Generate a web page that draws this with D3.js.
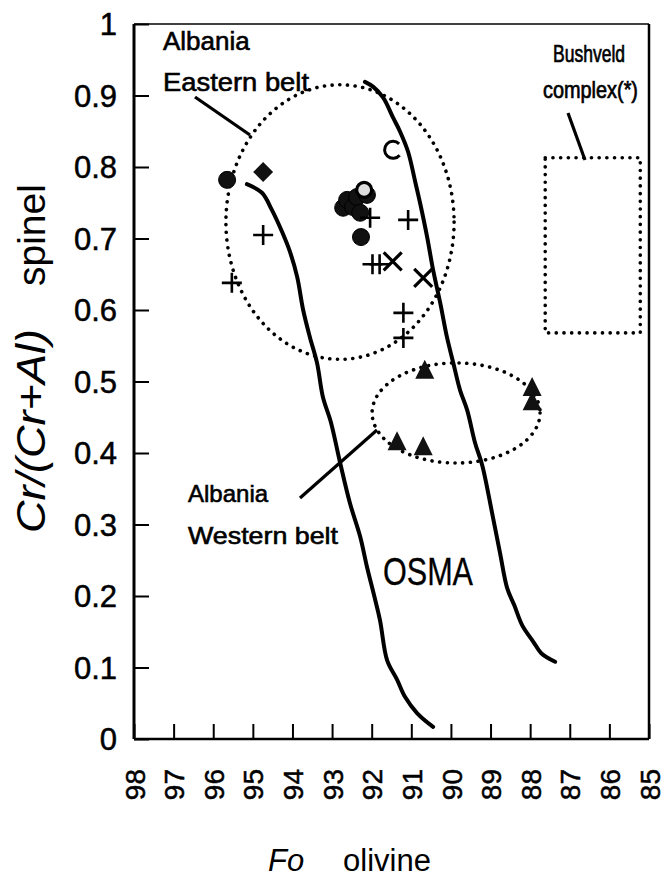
<!DOCTYPE html>
<html><head><meta charset="utf-8">
<script src="https://cdn.jsdelivr.net/npm/d3@7/dist/d3.min.js"></script>
<style>body{margin:0;background:#fff}svg{display:block}</style>
</head><body>
<svg id="c" width="666" height="881"></svg>
<script>
// ---- data ----
const xTicks = [98,97,96,95,94,93,92,91,90,89,88,87,86,85];
const yTicks = [0,0.1,0.2,0.3,0.4,0.5,0.6,0.7,0.8,0.9,1];
const yTickLabels = ["0","0.1","0.2","0.3","0.4","0.5","0.6","0.7","0.8","0.9","1"];

const filledCircles = [[95.65,0.782],[92.72,0.743],[92.62,0.754],[92.47,0.744],[92.37,0.758],[92.29,0.736],[92.12,0.761],[92.27,0.702]];
const ringCircles = [[92.19,0.768]];
const openArcs = [[91.46,0.824]];
const diamonds = [[94.74,0.793]];
const pluses = [[94.74,0.705],[95.53,0.638],[92.04,0.729],[91.08,0.726],[91.98,0.664],[91.80,0.664],[91.20,0.596],[91.20,0.561]];
const crosses = [[91.47,0.668],[90.70,0.645]];
const triangles = [[90.66,0.515],[87.95,0.491],[87.95,0.471],[91.36,0.415],[90.70,0.408]];

const osmaLeft = [[95.15,0.776],[94.77,0.764],[94.52,0.740],[94.26,0.709],[94.06,0.681],[93.88,0.646],[93.73,0.600],[93.56,0.562],[93.38,0.526],[93.23,0.478],[93.03,0.443],[92.80,0.387],[92.55,0.330],[92.29,0.283],[92.12,0.241],[91.94,0.201],[91.79,0.166],[91.61,0.110],[91.36,0.083],[91.16,0.059],[90.85,0.036],[90.45,0.017]];
const osmaRight = [[92.17,0.919],[91.96,0.912],[91.71,0.897],[91.46,0.869],[91.28,0.849],[91.08,0.821],[90.90,0.779],[90.78,0.750],[90.60,0.702],[90.45,0.656],[90.27,0.610],[90.10,0.562],[89.94,0.526],[89.77,0.488],[89.59,0.460],[89.39,0.414],[89.21,0.383],[88.96,0.316],[88.76,0.260],[88.58,0.211],[88.40,0.187],[88.20,0.159],[87.92,0.136],[87.72,0.120],[87.37,0.108]];

const easternBelt = [92.80, 0.723, 2.88, 0.192];   // centre Fo, centre Cr#, radius Fo, radius Cr#
const westernBelt = [89.87, 0.456, 2.12, 0.070];
const bushveld = [87.62, 85.22, 0.813, 0.568];     // Fo from, Fo to, Cr# top, Cr# bottom

// ---- chart ----
const svg = d3.select("#c");
const FONT = "'Liberation Sans', Arial, sans-serif";
const x = d3.scaleLinear().domain([98,85]).range([134,649]);
const y = d3.scaleLinear().domain([0,1]).range([739,24]);

// frame
svg.append("line").attr("x1",x(98)).attr("x2",x(85)).attr("y1",y(1)).attr("y2",y(1)).attr("stroke","#000").attr("stroke-width",1.5);
svg.append("line").attr("x1",x(98)).attr("x2",x(85)).attr("y1",y(0)).attr("y2",y(0)).attr("stroke","#000").attr("stroke-width",2.5);
svg.append("line").attr("x1",x(98)).attr("x2",x(98)).attr("y1",y(1)).attr("y2",y(0)).attr("stroke","#000").attr("stroke-width",3);
svg.append("line").attr("x1",x(85)).attr("x2",x(85)).attr("y1",y(1)).attr("y2",y(0)).attr("stroke","#000").attr("stroke-width",2.5);

// x axis
const gx = svg.append("g").attr("transform",`translate(0,${y(0)})`)
  .call(d3.axisBottom(x).tickValues(xTicks).tickSize(-15).tickFormat(d=>String(d)));
gx.select(".domain").remove();
gx.selectAll(".tick line").attr("stroke","#000").attr("stroke-width",2);
gx.selectAll(".tick text")
  .attr("transform","rotate(-90)").attr("x",-30).attr("y",0).attr("dy","0.36em")
  .attr("text-anchor","end").attr("font-family",FONT).attr("font-size",28)
  .attr("fill","#000").attr("stroke","#000").attr("stroke-width",0.5);

// y axis
const gy = svg.append("g").attr("transform",`translate(${x(98)},0)`)
  .call(d3.axisLeft(y).tickValues(yTicks).tickSize(-15).tickPadding(17).tickFormat((d,i)=>yTickLabels[i]));
gy.select(".domain").remove();
gy.selectAll(".tick line").attr("stroke","#000").attr("stroke-width",2);
gy.selectAll(".tick text").attr("font-family",FONT).attr("font-size",31).attr("fill","#000")
  .attr("stroke","#000").attr("stroke-width",0.5).attr("dy","0.35em");

// axis titles
const yl = svg.append("g").attr("font-family",FONT).attr("fill","#000");
yl.append("text").attr("transform","translate(45,533) rotate(-90)").attr("font-size",40)
  .attr("font-style","italic").attr("textLength",204).attr("lengthAdjust","spacingAndGlyphs").text("Cr/(Cr+Al)");
yl.append("text").attr("transform","translate(45,286) rotate(-90)").attr("font-size",39).text("spinel");
const xl = svg.append("g").attr("font-family",FONT).attr("font-size",31).attr("fill","#000");
xl.append("text").attr("x",268).attr("y",871).attr("font-style","italic").text("Fo");
xl.append("text").attr("x",343).attr("y",871).text("olivine");

// dotted fields
const dotted = g => g.attr("fill","none").attr("stroke","#000").attr("stroke-width",3.6)
  .attr("stroke-linecap","round").attr("stroke-dasharray","0.1 7.6");
[easternBelt, westernBelt].forEach(e=>{
  svg.append("ellipse").attr("cx",x(e[0])).attr("cy",y(e[1]))
    .attr("rx",x(e[0]-e[2])-x(e[0])).attr("ry",y(0)-y(e[3])).call(dotted);
});
svg.append("rect").attr("x",x(bushveld[0])).attr("y",y(bushveld[2]))
  .attr("width",x(bushveld[1])-x(bushveld[0])).attr("height",y(bushveld[3])-y(bushveld[2])).call(dotted);

// OSMA curves
const line = d3.line().x(d=>x(d[0])).y(d=>y(d[1])).curve(d3.curveCatmullRom.alpha(0.5));
[osmaLeft, osmaRight].forEach(c=>{
  svg.append("path").attr("d",line(c)).attr("fill","none").attr("stroke","#000")
    .attr("stroke-width",4).attr("stroke-linejoin","round").attr("stroke-linecap","round");
});

// leader lines
const leaders = [[195,97,250,135],[568,113,585,160],[300,498,377,430]];
leaders.forEach(l=>svg.append("line").attr("x1",l[0]).attr("y1",l[1]).attr("x2",l[2]).attr("y2",l[3])
  .attr("stroke","#000").attr("stroke-width",3.2));

// symbols
const sym = svg.append("g");
sym.selectAll(".fc").data(filledCircles).join("circle").attr("cx",d=>x(d[0])).attr("cy",d=>y(d[1]))
  .attr("r",8.5).attr("fill","#111").attr("stroke","#000").attr("stroke-width",1);
sym.selectAll(".rc").data(ringCircles).join("circle").attr("cx",d=>x(d[0])).attr("cy",d=>y(d[1]))
  .attr("r",7.5).attr("fill","#ddd").attr("stroke","#000").attr("stroke-width",3.2);
const arcC = d3.arc().innerRadius(7).outerRadius(10).startAngle(Math.PI*0.72).endAngle(Math.PI*2.25);
sym.selectAll(".oa").data(openArcs).join("path").attr("transform",d=>`translate(${x(d[0])},${y(d[1])})`)
  .attr("d",arcC()).attr("fill","#000");
sym.selectAll(".dm").data(diamonds).join("path")
  .attr("d",d=>`M${x(d[0])},${y(d[1])-10}L${x(d[0])+10},${y(d[1])}L${x(d[0])},${y(d[1])+10}L${x(d[0])-10},${y(d[1])}Z`)
  .attr("fill","#111");
sym.selectAll(".pl").data(pluses).join("path")
  .attr("d",d=>`M${x(d[0])-10},${y(d[1])}H${x(d[0])+10}M${x(d[0])},${y(d[1])-10}V${y(d[1])+10}`)
  .attr("stroke","#000").attr("stroke-width",2.6);
sym.selectAll(".cr").data(crosses).join("path")
  .attr("d",d=>`M${x(d[0])-9},${y(d[1])-9}L${x(d[0])+9},${y(d[1])+9}M${x(d[0])+9},${y(d[1])-9}L${x(d[0])-9},${y(d[1])+9}`)
  .attr("stroke","#000").attr("stroke-width",3.2);
sym.selectAll(".tr").data(triangles).join("path")
  .attr("d",d=>`M${x(d[0])},${y(d[1])-11}L${x(d[0])+9.5},${y(d[1])+8}L${x(d[0])-9.5},${y(d[1])+8}Z`)
  .attr("fill","#111");

// annotations
const ann = svg.append("g").attr("font-family",FONT).attr("fill","#000").attr("stroke","#000").attr("stroke-width",0.6);
ann.append("text").attr("x",163).attr("y",50).attr("font-size",26).text("Albania");
ann.append("text").attr("x",163).attr("y",91).attr("font-size",26).attr("textLength",146).attr("lengthAdjust","spacingAndGlyphs").text("Eastern belt");
ann.append("text").attr("x",553).attr("y",62).attr("font-size",24).attr("stroke-width",0.7).attr("textLength",72).attr("lengthAdjust","spacingAndGlyphs").text("Bushveld");
ann.append("text").attr("x",543).attr("y",98).attr("font-size",24).attr("stroke-width",0.7).attr("textLength",95).attr("lengthAdjust","spacingAndGlyphs").text("complex(*)");
ann.append("text").attr("x",188).attr("y",502).attr("font-size",24).text("Albania");
ann.append("text").attr("x",188).attr("y",544).attr("font-size",24).attr("textLength",150).attr("lengthAdjust","spacingAndGlyphs").text("Western belt");
ann.append("text").attr("x",383).attr("y",585).attr("font-size",38).attr("textLength",90).attr("lengthAdjust","spacingAndGlyphs").attr("stroke-width",0.3).text("OSMA");
</script>
</body></html>
